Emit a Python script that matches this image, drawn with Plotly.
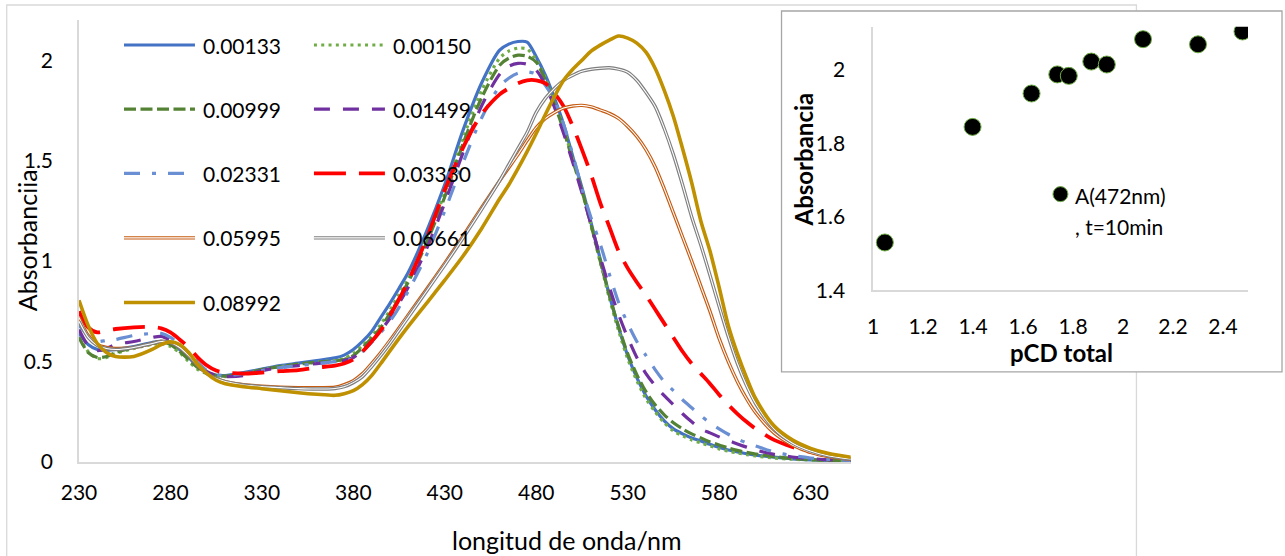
import plotly.graph_objects as go

# ---------------- data ----------------
wavelength = [230, 235, 240, 245, 250, 260, 270, 275, 280, 285, 290, 295, 300, 305, 310, 320, 330, 340, 350, 360,
              370, 375, 380, 385, 390, 395, 400, 405, 410, 420, 430, 440, 450, 460, 465, 470, 475, 480, 485, 490,
              495, 500, 505, 510, 515, 520, 525, 530, 535, 540, 545, 550, 555, 560, 565, 570, 575, 580, 585, 590,
              595, 600, 610, 620, 630, 640, 652]

a_00133 = [0.64, 0.585, 0.56, 0.555, 0.56, 0.575, 0.595, 0.60, 0.59, 0.56, 0.52, 0.475, 0.445, 0.432, 0.43, 0.445,
           0.462, 0.48, 0.492, 0.505, 0.518, 0.532, 0.56, 0.60, 0.65, 0.72, 0.79, 0.865, 0.943, 1.147, 1.381, 1.652,
           1.884, 2.05, 2.08, 2.093, 2.09, 2.017, 1.925, 1.81, 1.68, 1.52, 1.365, 1.19, 1.01, 0.83, 0.67, 0.53, 0.42,
           0.33, 0.26, 0.205, 0.165, 0.14, 0.12, 0.105, 0.088, 0.072, 0.06, 0.05, 0.041, 0.034, 0.024, 0.016, 0.011,
           0.008, 0.005]
a_00150 = [0.62, 0.55, 0.515, 0.52, 0.54, 0.565, 0.585, 0.59, 0.575, 0.545, 0.50, 0.46, 0.44, 0.43, 0.425, 0.44,
           0.46, 0.475, 0.485, 0.497, 0.505, 0.515, 0.54, 0.58, 0.625, 0.685, 0.755, 0.835, 0.91, 1.11, 1.34, 1.61,
           1.845, 2.01, 2.045, 2.06, 2.055, 2.0, 1.91, 1.79, 1.66, 1.505, 1.35, 1.175, 0.995, 0.815, 0.655, 0.515,
           0.405, 0.315, 0.25, 0.195, 0.155, 0.13, 0.11, 0.095, 0.08, 0.065, 0.054, 0.045, 0.037, 0.03, 0.02, 0.014,
           0.01, 0.007, 0.004]
a_00999 = [0.62, 0.545, 0.52, 0.525, 0.545, 0.57, 0.59, 0.60, 0.585, 0.55, 0.51, 0.47, 0.445, 0.432, 0.427, 0.44,
           0.46, 0.475, 0.487, 0.497, 0.503, 0.51, 0.53, 0.57, 0.615, 0.67, 0.74, 0.815, 0.895, 1.09, 1.32, 1.585,
           1.81, 1.975, 2.01, 2.025, 2.02, 1.99, 1.90, 1.78, 1.65, 1.50, 1.35, 1.18, 1.0, 0.83, 0.675, 0.54, 0.435,
           0.35, 0.285, 0.235, 0.195, 0.165, 0.14, 0.12, 0.10, 0.085, 0.07, 0.058, 0.048, 0.04, 0.027, 0.018, 0.012,
           0.008, 0.005]
a_01499 = [0.66, 0.58, 0.555, 0.565, 0.585, 0.60, 0.62, 0.625, 0.605, 0.575, 0.535, 0.485, 0.45, 0.432, 0.425, 0.43,
           0.455, 0.47, 0.48, 0.49, 0.50, 0.505, 0.52, 0.555, 0.60, 0.655, 0.715, 0.79, 0.87, 1.06, 1.29, 1.54,
           1.77, 1.93, 1.97, 1.984, 1.98, 1.95, 1.875, 1.765, 1.635, 1.49, 1.34, 1.18, 1.02, 0.87, 0.735, 0.62, 0.52,
           0.44, 0.38, 0.33, 0.285, 0.24, 0.20, 0.165, 0.145, 0.125, 0.107, 0.09, 0.074, 0.06, 0.038, 0.025, 0.017,
           0.011, 0.006]
a_02331 = [0.68, 0.63, 0.60, 0.605, 0.61, 0.63, 0.64, 0.64, 0.62, 0.585, 0.545, 0.495, 0.455, 0.437, 0.43, 0.44,
           0.455, 0.47, 0.48, 0.49, 0.50, 0.505, 0.515, 0.55, 0.595, 0.645, 0.70, 0.77, 0.85, 1.03, 1.25, 1.49,
           1.71, 1.87, 1.91, 1.935, 1.942, 1.93, 1.875, 1.80, 1.68, 1.53, 1.36, 1.215, 1.085, 0.935, 0.795, 0.69,
           0.60, 0.53, 0.46, 0.40, 0.355, 0.31, 0.27, 0.23, 0.195, 0.165, 0.138, 0.115, 0.095, 0.08, 0.05, 0.032,
           0.02, 0.013, 0.008]
a_03330 = [0.75, 0.67, 0.645, 0.655, 0.662, 0.67, 0.672, 0.665, 0.645, 0.61, 0.57, 0.52, 0.48, 0.455, 0.445, 0.44,
           0.445, 0.452, 0.457, 0.47, 0.48, 0.49, 0.51, 0.55, 0.60, 0.655, 0.73, 0.81, 0.90, 1.11, 1.355, 1.565,
           1.73, 1.83, 1.86, 1.885, 1.90, 1.90, 1.885, 1.835, 1.77, 1.67, 1.555, 1.43, 1.29, 1.17, 1.05, 0.965, 0.895,
           0.83, 0.76, 0.69, 0.62, 0.55, 0.49, 0.44, 0.39, 0.335, 0.285, 0.24, 0.20, 0.165, 0.11, 0.075, 0.05,
           0.03, 0.017]
a_05995 = [0.72, 0.63, 0.585, 0.57, 0.565, 0.57, 0.59, 0.60, 0.595, 0.57, 0.53, 0.48, 0.44, 0.415, 0.40, 0.385,
           0.377, 0.372, 0.37, 0.37, 0.372, 0.385, 0.405, 0.44, 0.49, 0.545, 0.605, 0.668, 0.732, 0.86, 0.99, 1.125,
           1.265, 1.40, 1.465, 1.53, 1.60, 1.665, 1.71, 1.74, 1.762, 1.772, 1.775, 1.768, 1.752, 1.735, 1.71, 1.67,
           1.62, 1.555, 1.47, 1.36, 1.24, 1.12, 1.0, 0.875, 0.75, 0.615, 0.50, 0.40, 0.315, 0.245, 0.145, 0.085,
           0.048, 0.027, 0.013]
a_06661 = [0.70, 0.62, 0.58, 0.565, 0.56, 0.57, 0.59, 0.60, 0.595, 0.57, 0.53, 0.48, 0.44, 0.415, 0.40, 0.383,
           0.375, 0.37, 0.365, 0.363, 0.366, 0.375, 0.395, 0.425, 0.475, 0.53, 0.59, 0.655, 0.72, 0.85, 0.98, 1.115,
           1.255, 1.40, 1.48, 1.56, 1.64, 1.74, 1.81, 1.86, 1.90, 1.925, 1.945, 1.955, 1.96, 1.962, 1.955, 1.94,
           1.90, 1.84, 1.77, 1.66, 1.53, 1.38, 1.22, 1.08, 0.93, 0.775, 0.625, 0.49, 0.38, 0.29, 0.165, 0.095,
           0.055, 0.03, 0.015]
a_08992 = [0.805, 0.68, 0.59, 0.545, 0.525, 0.525, 0.56, 0.585, 0.598, 0.585, 0.545, 0.485, 0.44, 0.407, 0.39, 0.375,
           0.365, 0.355, 0.345, 0.337, 0.332, 0.34, 0.355, 0.385, 0.43, 0.49, 0.553, 0.615, 0.675, 0.79, 0.905, 1.025,
           1.16, 1.31, 1.38, 1.46, 1.545, 1.635, 1.73, 1.82, 1.90, 1.955, 2.0, 2.045, 2.075, 2.10, 2.12, 2.11,
           2.085, 2.04, 1.96, 1.85, 1.72, 1.56, 1.39, 1.20, 1.05, 0.87, 0.68, 0.54, 0.42, 0.315, 0.18, 0.11,
           0.068, 0.042, 0.024]

series_names = ["0.00133", "0.00150", "0.00999", "0.01499", "0.02331", "0.03330", "0.05995", "0.06661", "0.08992"]
series_values = [a_00133, a_00150, a_00999, a_01499, a_02331, a_03330, a_05995, a_06661, a_08992]

x_ticks = [230, 280, 330, 380, 430, 480, 530, 580, 630]
y_ticks = [0, 0.5, 1, 1.5, 2]

pcd_total = [1.047, 1.398, 1.634, 1.737, 1.783, 1.873, 1.935, 2.080, 2.300, 2.478]
a_472 = [1.530, 1.845, 1.936, 1.988, 1.984, 2.023, 2.015, 2.084, 2.070, 2.105]
inset_x_ticks = [1, 1.2, 1.4, 1.6, 1.8, 2, 2.2, 2.4]
inset_y_ticks = [1.4, 1.6, 1.8, 2]
inset_legend_lines = ["A(472nm)", ", t=10min"]

# ---------------- styles ----------------
styles = [
    dict(color="#4472C4", width=3.2, dash="solid", double=False),
    dict(color="#70AD47", width=3.2, dash="3px,4.3px", double=False),
    dict(color="#548235", width=3.2, dash="12px,4.5px", double=False),
    dict(color="#7030A0", width=3.2, dash="16px,13px", double=False),
    dict(color="#6A8FD3", width=3.2, dash="16px,12px,4px,12px", double=False),
    dict(color="#FF0000", width=3.8, dash="32px,13px", double=False),
    dict(color="#C55A11", width=3.4, dash="solid", double=True),
    dict(color="#7F7F7F", width=3.4, dash="solid", double=True),
    dict(color="#BF9000", width=3.6, dash="solid", double=False),
]

W, H = 1285, 556
L_PX, R_PX, T_PX, B_PX = 79.0, 1248.3, 20.0, 461.7
FONT = "Lato"


def fx(px):
    return (px - L_PX) / (R_PX - L_PX)


def fy(py):
    return (B_PX - py) / (B_PX - T_PX)


fig = go.Figure()

for name, vals, st in zip(series_names, series_values, styles):
    fig.add_trace(go.Scatter(x=wavelength, y=vals, mode="lines", name=name, showlegend=False,
                             line=dict(color=st["color"], width=st["width"], dash=st["dash"], shape="spline",
                                       smoothing=0.8),
                             xaxis="x", yaxis="y", hoverinfo="skip"))
    if st["double"]:
        fig.add_trace(go.Scatter(x=wavelength, y=vals, mode="lines", showlegend=False,
                                 line=dict(color="white", width=1.1, shape="spline", smoothing=0.8),
                                 xaxis="x", yaxis="y", hoverinfo="skip"))

fig.add_trace(go.Scatter(x=pcd_total, y=a_472, mode="markers", name="A(472nm), t=10min",
                         marker=dict(color="black", size=17, line=dict(color="#70AD47", width=1)),
                         xaxis="x2", yaxis="y2", showlegend=False, hoverinfo="skip"))

tickfont = dict(family=FONT, size=21, color="black")

fig.update_layout(
    width=W, height=H, autosize=False,
    margin=dict(l=L_PX, r=W - R_PX, t=T_PX, b=H - B_PX, pad=0),
    paper_bgcolor="white", plot_bgcolor="rgba(0,0,0,0)",
    font=dict(family=FONT, color="black"),
    showlegend=False,
    xaxis=dict(domain=[0, fx(851)], range=[230, 652], tickvals=x_ticks, showgrid=False, zeroline=False,
               showline=True, linecolor="#D9D9D9", linewidth=1.5, ticks="outside", ticklen=11,
               tickcolor="rgba(0,0,0,0)", tickfont=tickfont, anchor="y"),
    yaxis=dict(domain=[0, 1], range=[0, 2.2], tickvals=y_ticks, ticktext=["0", "0.5", "1", "1.5", "2"],
               showgrid=False, zeroline=False, showline=True, linecolor="#D9D9D9", linewidth=1.5,
               ticks="outside", ticklen=20, tickcolor="rgba(0,0,0,0)", tickfont=tickfont, anchor="x"),
    xaxis2=dict(domain=[fx(873.3), 1], range=[1, 2.5], tickvals=inset_x_ticks,
                ticktext=["1", "1.2", "1.4", "1.6", "1.8", "2", "2.2", "2.4"], showgrid=False, zeroline=False,
                showline=True, linecolor="#D9D9D9", linewidth=1.5, ticks="outside", ticklen=17,
                tickcolor="rgba(0,0,0,0)", tickfont=tickfont, anchor="y2"),
    yaxis2=dict(domain=[fy(290), fy(26.7)], range=[1.4, 2.118], tickvals=inset_y_ticks,
                ticktext=["1.4", "1.6", "1.8", "2"], showgrid=False, zeroline=False, showline=True,
                linecolor="#D9D9D9", linewidth=1.5, ticks="outside", ticklen=22, tickcolor="rgba(0,0,0,0)",
                tickfont=tickfont, anchor="x2"),
)

shapes = []
# outer chart border (main chart)
shapes.append(dict(type="rect", xref="paper", yref="paper", x0=fx(6.7), x1=fx(1136.7), y0=fy(600), y1=fy(5),
                   line=dict(color="#D9D9D9", width=1.3), fillcolor="white", layer="below"))
# inset chart border
shapes.append(dict(type="rect", xref="paper", yref="paper", x0=fx(781.7), x1=fx(1282.3), y0=fy(371.7), y1=fy(11),
                   line=dict(color="#A6A6A6", width=1.3), fillcolor="white", layer="below"))

annotations = []
# main legend (2 columns)
rows_py = [45, 109, 173.3, 237.7, 302.3]
cols = [(124, 195, 201), (314, 385, 391)]
for i, (name, st) in enumerate(zip(series_names, styles)):
    r, c = divmod(i, 2)
    x0, x1, xt = cols[c]
    yy = fy(rows_py[r])
    shapes.append(dict(type="line", xref="paper", yref="paper", x0=fx(x0), x1=fx(x1), y0=yy, y1=yy,
                       line=dict(color=st["color"], width=st["width"], dash=st["dash"]), layer="above"))
    if st["double"]:
        shapes.append(dict(type="line", xref="paper", yref="paper", x0=fx(x0), x1=fx(x1), y0=yy, y1=yy,
                           line=dict(color="white", width=1.1), layer="above"))
    annotations.append(dict(text=name, xref="paper", yref="paper", x=fx(xt), y=yy, xanchor="left",
                            yanchor="middle", showarrow=False, font=dict(family=FONT, size=21, color="black")))

# inset legend (marker symbol + two text lines)
shapes.append(dict(type="circle", xref="paper", yref="paper", xsizemode="pixel", ysizemode="pixel",
                   xanchor=fx(1060.7), yanchor=fy(194), x0=-7.5, x1=7.5, y0=-7.5, y1=7.5,
                   fillcolor="black", line=dict(color="#70AD47", width=1), layer="above"))
for txt, py in zip(inset_legend_lines, [195, 226.7]):
    annotations.append(dict(text=txt, xref="paper", yref="paper", x=fx(1073), y=fy(py), xanchor="left",
                            yanchor="middle", showarrow=False, font=dict(family=FONT, size=21, color="black")))

# axis titles
annotations.append(dict(text="Absorbanciia", xref="paper", yref="paper", x=fx(27), y=fy(240), textangle=-90,
                        xanchor="center", yanchor="middle", showarrow=False,
                        font=dict(family=FONT, size=25, color="black")))
annotations.append(dict(text="longitud de onda/nm", xref="paper", yref="paper", x=fx(567.5), y=fy(539.5),
                        xanchor="center", yanchor="middle", showarrow=False, borderpad=0,
                        font=dict(family=FONT, size=25, color="black")))
annotations.append(dict(text="<b>Absorbancia</b>", xref="paper", yref="paper", x=fx(803.3), y=fy(159.3),
                        textangle=-90, xanchor="center", yanchor="middle", showarrow=False,
                        font=dict(family=FONT, size=24, color="black")))
annotations.append(dict(text="<b>pCD total</b>", xref="paper", yref="paper", x=fx(1061.7), y=fy(352.3),
                        xanchor="center", yanchor="middle", showarrow=False,
                        font=dict(family=FONT, size=24, color="black")))

fig.update_layout(shapes=shapes, annotations=annotations)

fig.write_html("out.html")
